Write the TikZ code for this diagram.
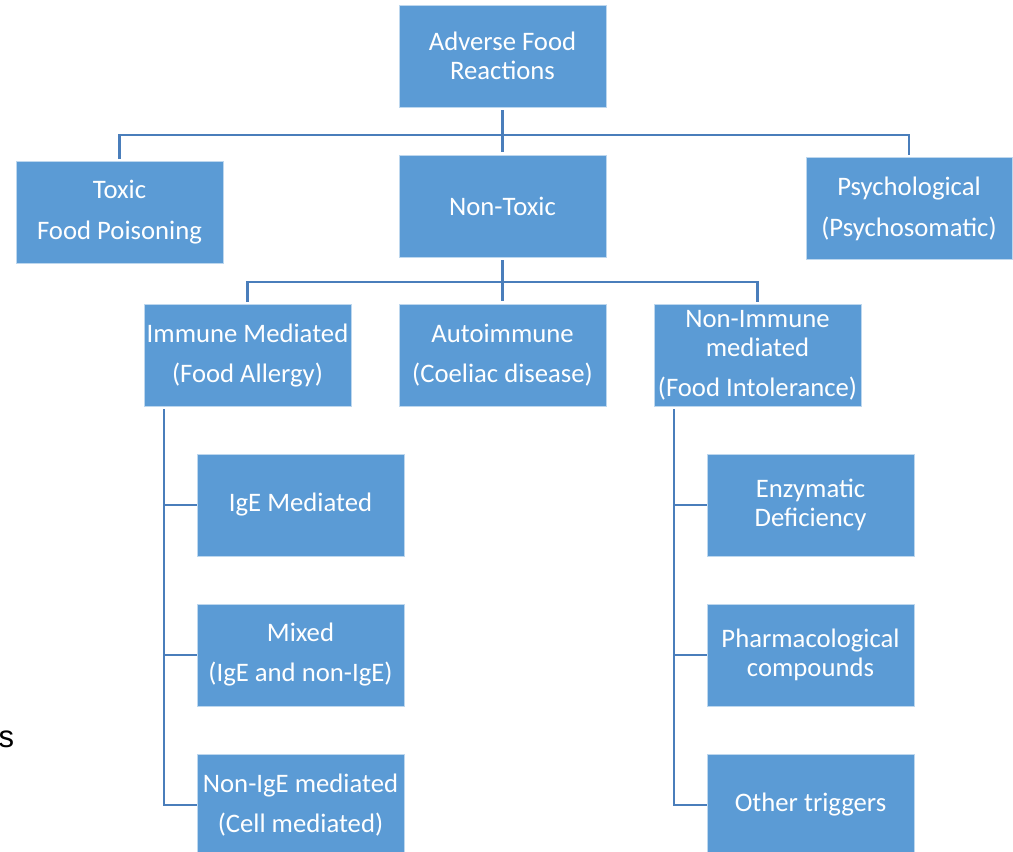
\documentclass[tikz,border=0pt]{standalone}
\usepackage{fontspec}
\setmainfont{Carlito}
\newfontfamily\arialfont{Liberation Sans}
\definecolor{boxblue}{HTML}{5B9BD5}
\definecolor{linkblue}{HTML}{4A7EBB}
\begin{document}
\begin{tikzpicture}[x=1pt,y=-1pt,
  box/.style={fill=boxblue, draw=white!60!boxblue, line width=0.8pt, text=white,
    font=\fontsize{26.7}{29}\selectfont, align=center, inner sep=0pt,
    minimum width=207pt, minimum height=102pt},
  link/.style={draw=linkblue, line width=2.8pt}]
\fill[white] (0,0) rectangle (1013,852);
\useasboundingbox (0,0) rectangle (1013,852);
% level 0
\node[box] (afr) at (502.5,56) {Adverse Food\\Reactions};
% level 1
\node[box] (toxic) at (119.5,212.5) {Toxic\\[12pt]Food Poisoning};
\node[box] (nontox) at (502.5,206) {Non-Toxic};
\node[box, minimum width=206pt] (psych) at (909,208.5) {Psychological\\[12pt](Psychosomatic)};
% level 2
\node[box] (immune) at (247.5,355.5) {Immune Mediated\\[11pt](Food Allergy)};
\node[box] (auto) at (502.5,355.5) {Autoimmune\\[11pt](Coeliac disease)};
\node[box] (nonimm) at (757.5,355.5) {Non-Immune\\mediated\\[11pt](Food Intolerance)};
% level 3 left
\node[box] (ige) at (300.5,505) {IgE Mediated};
\node[box] (mixed) at (300.5,655) {Mixed\\[11pt](IgE and non-IgE)};
\node[box] (nonige) at (300.5,805) {Non-IgE mediated\\[11pt](Cell mediated)};
% level 3 right
\node[box] (enz) at (810.5,505) {Enzymatic\\Deficiency};
\node[box] (pharm) at (810.5,655) {Pharmacological\\compounds};
\node[box] (other) at (810.5,805) {Other triggers};
% stray text at the left edge
\node[anchor=base west, inner sep=0pt, font=\arialfont\fontsize{31}{31}\selectfont] (stray) at (-1.5,747) {s};
% connectors
\coordinate (bar1) at (502.5,135);
\coordinate (bar2) at (502.5,282);
\draw[link, shorten <=3pt, shorten >=3pt] (afr.south) -- (nontox.north);
\draw[link] ([yshift=2pt]toxic.north) |- (bar1) -| ([yshift=2pt]psych.north);
\draw[link, shorten <=3pt, shorten >=3pt] (nontox.south) -- (auto.north);
\draw[link] ([yshift=2pt]immune.north) |- (bar2) -| ([yshift=2pt]nonimm.north);
\coordinate (ltop) at (164,409);
\draw[link] (ltop) |- (nonige.west);
\draw[link] (ltop |- ige.west) -- (ige.west);
\draw[link] (ltop |- mixed.west) -- (mixed.west);
\coordinate (rtop) at (674,409);
\draw[link] (rtop) |- (other.west);
\draw[link] (rtop |- enz.west) -- (enz.west);
\draw[link] (rtop |- pharm.west) -- (pharm.west);
\end{tikzpicture}
\end{document}
